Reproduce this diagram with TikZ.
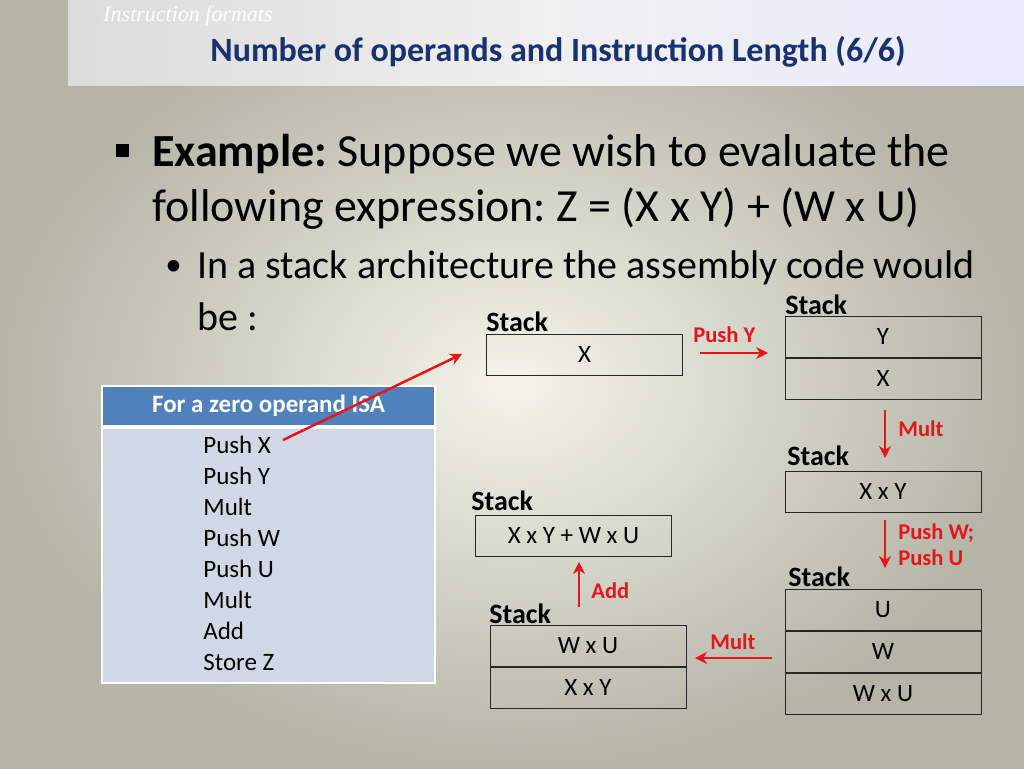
\documentclass[tikz,border=0pt]{standalone}
\usepackage{fontspec}
\setmainfont{Carlito}
\newfontfamily\serifit{Liberation Serif}
\frenchspacing
\definecolor{titleblue}{HTML}{17326F}
\definecolor{hdrblue}{HTML}{4F81BD}
\definecolor{tblbody}{HTML}{D0D8E8}
\definecolor{arrred}{HTML}{E8141B}
\definecolor{bgin}{HTML}{F4F4EA}
\definecolor{bgout}{HTML}{B4B5A7}
\usetikzlibrary{arrows.meta,positioning}
\tikzset{every picture/.style={line width=0.75pt},
  cell/.style={draw=black!85,line width=1pt,minimum width=196pt,minimum height=41pt,inner sep=0pt,font=\fontsize{25}{30}\selectfont},
  stacklbl/.style={anchor=west,inner sep=0pt,font=\bfseries\fontsize{28}{32}\selectfont},
  redlbl/.style={anchor=west,inner sep=0pt,text=arrred,font=\bfseries\fontsize{22.5}{27}\selectfont},
  redarrow/.style={draw=arrred,line width=2.5pt,-{Stealth[length=12pt,width=12pt]}}}
\begin{document}
\begin{tikzpicture}[x=1pt,y=1pt,yscale=-1,xscale=1]
	\useasboundingbox (0,0) rectangle (1024,768);
	% background
	\shade [inner color=bgin,outer color=bgout] (0,0) rectangle (1024,768);
	\fill [left color=black!14!white,right color=blue!8!white,middle color=blue!6!black!6!white] (68,0) rectangle (1024,85);
	% header
	\node (fmt) [anchor=west,inner sep=0pt,text=white,font=\serifit\itshape\fontsize{22}{26}\selectfont] at (103,16) {Instruction formats};
	\node (title) [inner sep=0pt,text=titleblue,font=\bfseries\fontsize{34}{40}\selectfont] at (558,52) {Number of operands and Instruction Length (6/6)};
	% bullets
	\fill (116,144) rectangle (129,157);
	\node (l1) [anchor=west,inner sep=0pt,font=\fontsize{46}{54}\selectfont] at (152,154) {\textbf{Example:} Suppose we wish to evaluate the};
	\node (l2) [anchor=west,inner sep=0pt,font=\fontsize{46}{54}\selectfont] at (152,209) {following expression: Z = (X x Y) + (W x U)};
	\node (dot) [anchor=west,inner sep=0pt,font=\fontsize{33}{40}\selectfont] at (165,268) {\textbullet};
	\node (l3) [anchor=west,inner sep=0pt,font=\fontsize{40}{48}\selectfont] at (197,268) {In a stack architecture the assembly code would};
	\node (l4) [anchor=west,inner sep=0pt,font=\fontsize{40}{48}\selectfont] at (197,317) {be :};
	% table
	\draw [draw=white,fill=hdrblue,line width=1.5pt] (102,386) rectangle (435,426);
	\node (thead) [text=white,font=\bfseries\fontsize{25}{30}\selectfont] at (268.5,406) {For a zero operand ISA};
	\draw [draw=white,fill=tblbody,line width=1.5pt] (102,428) rectangle (435,683);
	\node (code) [anchor=north west,align=left,inner sep=0pt,font=\fontsize{25}{31}\selectfont] at (203,436) {Push X\\Push Y\\Mult\\Push W\\Push U\\Mult\\Add\\Store Z};
	\coordinate (pushx) at (283,440);
	\coordinate (pushxend) at (462,354);
	% stacks
	\node (s1) [cell] at (584.5,354.5) {X};
	\node (s1l) [stacklbl] at (486,322) {Stack};
	\node (s2a) [cell] at (883,336.5) {Y};
	\node (s2b) [cell,below=0pt of s2a] {X};
	\node (s2l) [stacklbl] at (785,305) {Stack};
	\node (s3) [cell] at (883,491.5) {X x Y};
	\node (s3l) [stacklbl] at (787,456) {Stack};
	\node (s4a) [cell] at (883,609.5) {U};
	\node (s4b) [cell,below=0pt of s4a] {W};
	\node (s4c) [cell,below=0pt of s4b] {W x U};
	\node (s4l) [stacklbl] at (788,577) {Stack};
	\node (s5a) [cell] at (588,645.5) {W x U};
	\node (s5b) [cell,below=0pt of s5a] {X x Y};
	\node (s5l) [stacklbl] at (489,614) {Stack};
	\node (s6) [cell] at (573.5,535.5) {X x Y + W x U};
	\node (s6l) [stacklbl] at (471,501) {Stack};
	% arrows
	\draw [redarrow] (pushx) -- (pushxend);
	\draw [redarrow] (700,353) -- (768,353);
	\node (pushy) [redlbl] at (693,335) {Push Y};
	\draw [redarrow] (885,410) -- (885,458);
	\node (mult1) [redlbl] at (898,429) {Mult};
	\draw [redarrow] (885,520) -- (885,568);
	\node (pushwu) [redlbl,align=left] at (898,545) {Push W;\\[-1pt]Push U};
	\draw [redarrow] (772,658) -- (695,658);
	\node (mult2) [redlbl] at (710,642) {Mult};
	\draw [redarrow] (579,607) -- (579,562);
	\node (add) [redlbl] at (591,591) {Add};
\end{tikzpicture}
\end{document}
